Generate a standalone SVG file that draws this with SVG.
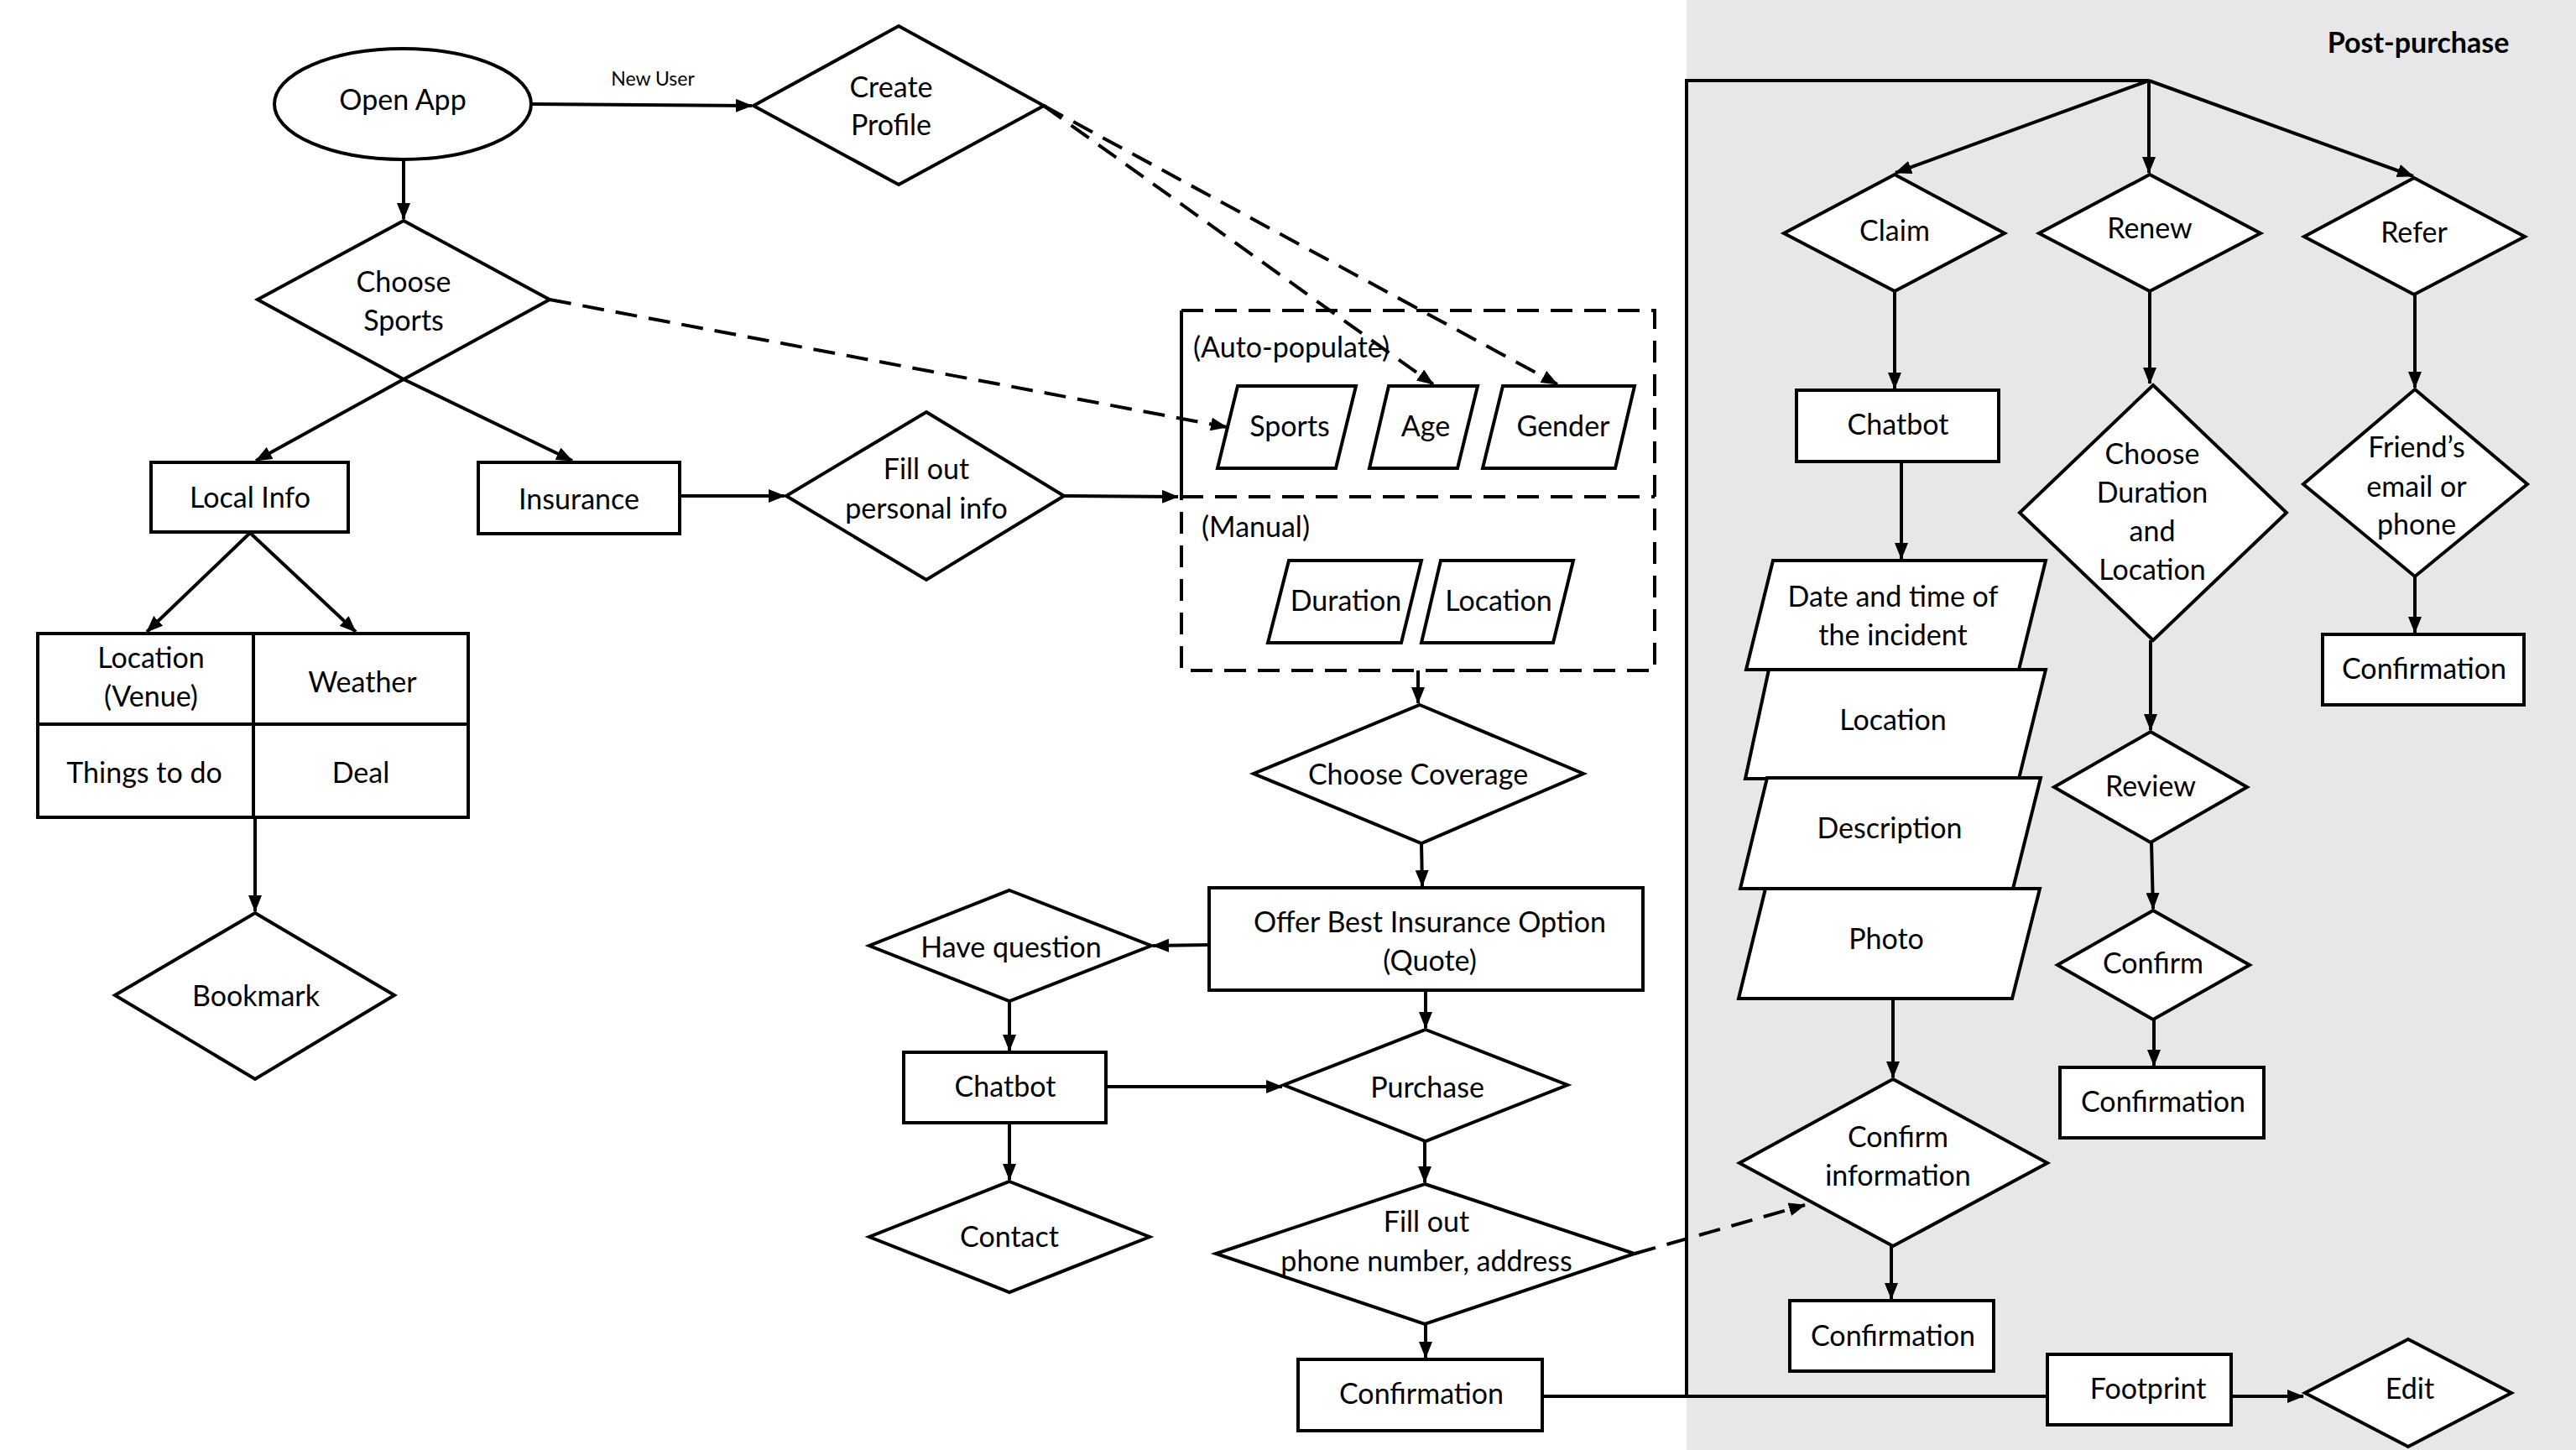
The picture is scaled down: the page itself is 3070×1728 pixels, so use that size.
<svg xmlns="http://www.w3.org/2000/svg" width="3070" height="1728" viewBox="0 0 3070 1728">
<defs>
<marker id="ah" viewBox="0 0 20 16" refX="19" refY="8" markerWidth="20" markerHeight="16" markerUnits="userSpaceOnUse" orient="auto">
<path d="M0,0 L20,8 L0,16 z" fill="#000"/>
</marker>
<style>
.s{fill:#fff;stroke:#000;stroke-width:4;stroke-linejoin:miter}
.c{fill:none;stroke:#000;stroke-width:4}
.a{marker-end:url(#ah)}
.d{stroke-dasharray:26 14}
text{font-family:Lato,"Open Sans","Liberation Sans",sans-serif;font-size:34px;fill:#000;text-anchor:middle;dominant-baseline:central;transform:translate(0px,-3px)}
.l{text-anchor:start}
.sm{font-size:23px}
.b{font-weight:bold}
</style>
</defs>
<rect x="0" y="0" width="3070" height="1728" fill="#fff"/>
<rect x="2010" y="0" width="1060" height="1728" fill="#e7e7e7"/>
<text class="b" x="2882" y="52">Post-purchase</text>

<g id="connectors">
<line class="c a" x1="633" y1="124" x2="896" y2="126"/>
<text class="sm" x="778" y="96">New User</text>
<line class="c a" x1="481" y1="190" x2="481" y2="261"/>
<line class="c a" x1="481" y1="452" x2="305" y2="549"/>
<line class="c a" x1="481" y1="452" x2="682" y2="549"/>
<line class="c a" x1="298" y1="635" x2="175" y2="753"/>
<line class="c a" x1="298" y1="635" x2="424" y2="753"/>
<line class="c a" x1="304" y1="974" x2="304" y2="1086"/>
<line class="c a" x1="810" y1="591" x2="935" y2="591"/>
<line class="c a" x1="1268" y1="591" x2="1404" y2="592"/>
<path class="c a d" d="M655,357 L1462,509"/>
<path class="c a d" d="M1244,126 L1708,458"/>
<path class="c a d" d="M1244,126 L1856,458"/>
<line class="c a" x1="1690" y1="799" x2="1690" y2="838"/>
<line class="c a" x1="1694" y1="1005" x2="1695" y2="1056"/>
<line class="c a" x1="1441" y1="1126" x2="1374" y2="1127"/>
<line class="c a" x1="1699" y1="1180" x2="1699" y2="1225"/>
<line class="c a" x1="1203" y1="1193" x2="1203" y2="1252"/>
<line class="c a" x1="1203" y1="1338" x2="1203" y2="1406"/>
<line class="c a" x1="1318" y1="1295" x2="1528" y2="1295"/>
<line class="c a" x1="1698" y1="1360" x2="1698" y2="1409"/>
<line class="c a" x1="1699" y1="1578" x2="1699" y2="1618"/>
<path class="c a d" d="M1948,1494 L2151,1436"/>
<polyline class="c" points="1838,1664 2440,1664"/>
<polyline class="c" points="2010,1664 2010,96 2561,96"/>
<line class="c a" x1="2561" y1="96" x2="2259" y2="206"/>
<line class="c a" x1="2561" y1="96" x2="2561" y2="206"/>
<line class="c a" x1="2561" y1="96" x2="2876" y2="210"/>
<line class="c a" x1="2258" y1="347" x2="2258" y2="463"/>
<line class="c a" x1="2266" y1="550" x2="2266" y2="666"/>
<line class="c a" x1="2256" y1="1190" x2="2256" y2="1284"/>
<line class="c a" x1="2254" y1="1485" x2="2254" y2="1548"/>
<line class="c a" x1="2562" y1="347" x2="2562" y2="457"/>
<line class="c a" x1="2563" y1="763" x2="2563" y2="870"/>
<line class="c a" x1="2564" y1="1004" x2="2566" y2="1083"/>
<line class="c a" x1="2567" y1="1215" x2="2567" y2="1270"/>
<line class="c a" x1="2878" y1="351" x2="2878" y2="462"/>
<line class="c a" x1="2878" y1="687" x2="2878" y2="754"/>
<line class="c a" x1="2659" y1="1664" x2="2745" y2="1664"/>
</g>

<g id="open-app"><ellipse class="s" cx="480" cy="124" rx="153" ry="66"/><text x="480" y="120">Open App</text></g>
<g id="create-profile"><polygon class="s" points="1071,31 1244,126 1071,220 898,126"/><text x="1062" y="105">Create</text><text x="1062" y="150">Profile</text></g>
<g id="choose-sports"><polygon class="s" points="481,263 655,357 481,452 307,357"/><text x="481" y="337">Choose</text><text x="481" y="383">Sports</text></g>
<g id="local-info"><rect class="s" x="180" y="551" width="235" height="83"/><text x="298" y="594">Local Info</text></g>
<g id="insurance"><rect class="s" x="570" y="551" width="240" height="85"/><text x="690" y="596">Insurance</text></g>
<g id="local-grid">
<rect class="s" x="45" y="755" width="513" height="219"/>
<line class="c" x1="302" y1="755" x2="302" y2="974"/>
<line class="c" x1="45" y1="863" x2="558" y2="863"/>
<text x="180" y="785">Location</text><text x="180" y="831">(Venue)</text>
<text x="432" y="814">Weather</text>
<text x="172" y="922">Things to do</text>
<text x="430" y="922">Deal</text>
</g>
<g id="bookmark"><polygon class="s" points="304,1088 470,1186 304,1286 137,1186"/><text x="305" y="1188">Bookmark</text></g>
<g id="fill-personal"><polygon class="s" points="1104,491 1268,591 1104,691 937,591"/><text x="1104" y="560">Fill out</text><text x="1104" y="607">personal info</text></g>

<g id="info-box">
<line class="c" x1="1408" y1="370" x2="1408" y2="592"/>
<polyline class="c d" points="1408,370 1972,370 1972,799 1408,799 1408,592"/>
<line class="c d" x1="1408" y1="592" x2="1972" y2="592"/>
<text class="l" x="1422" y="415">(Auto-populate)</text>
<text class="l" x="1432" y="629">(Manual)</text>
</g>
<g id="sports"><polygon class="s" points="1475,460 1616,460 1592,558 1451,558"/><text x="1537" y="509">Sports</text></g>
<g id="age"><polygon class="s" points="1655,460 1761,460 1737,558 1632,558"/><text x="1699" y="509">Age</text></g>
<g id="gender"><polygon class="s" points="1791,460 1948,460 1925,558 1767,558"/><text x="1863" y="509">Gender</text></g>
<g id="duration"><polygon class="s" points="1536,668 1694,668 1670,766 1511,766"/><text x="1604" y="717">Duration</text></g>
<g id="location-m"><polygon class="s" points="1717,668 1875,668 1851,766 1694,766"/><text x="1786" y="717">Location</text></g>
<g id="choose-coverage"><polygon class="s" points="1692,840 1887,922 1694,1005 1494,922"/><text x="1690" y="924">Choose Coverage</text></g>
<g id="offer"><rect class="s" x="1441" y="1058" width="517" height="122"/><text x="1704" y="1100">Offer Best Insurance Option</text><text x="1704" y="1146">(Quote)</text></g>
<g id="have-question"><polygon class="s" points="1203,1061 1372,1127 1203,1193 1036,1127"/><text x="1205" y="1130">Have question</text></g>
<g id="chatbot"><rect class="s" x="1077" y="1254" width="241" height="84"/><text x="1198" y="1296">Chatbot</text></g>
<g id="contact"><polygon class="s" points="1203,1408 1370,1474 1203,1540 1036,1474"/><text x="1203" y="1475">Contact</text></g>
<g id="purchase"><polygon class="s" points="1699,1227 1868,1293 1699,1360 1530,1293"/><text x="1701" y="1297">Purchase</text></g>
<g id="fill-phone"><polygon class="s" points="1698,1411 1948,1494 1698,1578 1449,1494"/><text x="1700" y="1457">Fill out</text><text x="1700" y="1504">phone number, address</text></g>
<g id="confirmation-main"><rect class="s" x="1547" y="1620" width="291" height="85"/><text x="1694" y="1662">Confirmation</text></g>

<g id="claim"><polygon class="s" points="2258,208 2389,278 2258,347 2126,278"/><text x="2258" y="276">Claim</text></g>
<g id="renew"><polygon class="s" points="2562,208 2694,278 2562,347 2430,278"/><text x="2562" y="273">Renew</text></g>
<g id="refer"><polygon class="s" points="2877,212 3009,282 2877,351 2746,282"/><text x="2877" y="278">Refer</text></g>
<g id="chatbot-claim"><rect class="s" x="2141" y="465" width="241" height="85"/><text x="2262" y="507">Chatbot</text></g>
<g id="date-time"><polygon class="s" points="2113,668 2438,668 2406,798 2081,798"/><text x="2256" y="712">Date and time of</text><text x="2256" y="758">the incident</text></g>
<g id="location-c"><polygon class="s" points="2108,798 2438,798 2406,928 2080,928"/><text x="2256" y="859">Location</text></g>
<g id="description"><polygon class="s" points="2106,927 2432,927 2399,1059 2074,1059"/><text x="2252" y="988">Description</text></g>
<g id="photo"><polygon class="s" points="2104,1059 2431,1059 2398,1190 2072,1190"/><text x="2248" y="1120">Photo</text></g>
<g id="confirm-info"><polygon class="s" points="2256,1286 2440,1386 2256,1485 2073,1386"/><text x="2262" y="1356">Confirm</text><text x="2262" y="1402">information</text></g>
<g id="confirmation-claim"><rect class="s" x="2133" y="1550" width="243" height="84"/><text x="2256" y="1593">Confirmation</text></g>
<g id="choose-duration"><polygon class="s" points="2566,459 2725,611 2566,763 2407,611"/><text x="2565" y="542">Choose</text><text x="2565" y="588">Duration</text><text x="2565" y="634">and</text><text x="2565" y="680">Location</text></g>
<g id="review"><polygon class="s" points="2563,872 2678,938 2563,1004 2448,938"/><text x="2563" y="938">Review</text></g>
<g id="confirm-renew"><polygon class="s" points="2566,1085 2681,1150 2566,1215 2452,1150"/><text x="2566" y="1149">Confirm</text></g>
<g id="confirmation-renew"><rect class="s" x="2455" y="1272" width="243" height="84"/><text x="2578" y="1314">Confirmation</text></g>
<g id="friend"><polygon class="s" points="2878,464 3012,577 2878,687 2745,577"/><text x="2880" y="534">Friend’s</text><text x="2880" y="581">email or</text><text x="2880" y="626">phone</text></g>
<g id="confirmation-refer"><rect class="s" x="2768" y="756" width="240" height="84"/><text x="2889" y="798">Confirmation</text></g>
<g id="footprint"><rect class="s" x="2440" y="1614" width="219" height="84"/><text x="2560" y="1656">Footprint</text></g>
<g id="edit"><polygon class="s" points="2870,1596 2993,1660 2870,1724 2747,1660"/><text x="2872" y="1656">Edit</text></g>
</svg>
